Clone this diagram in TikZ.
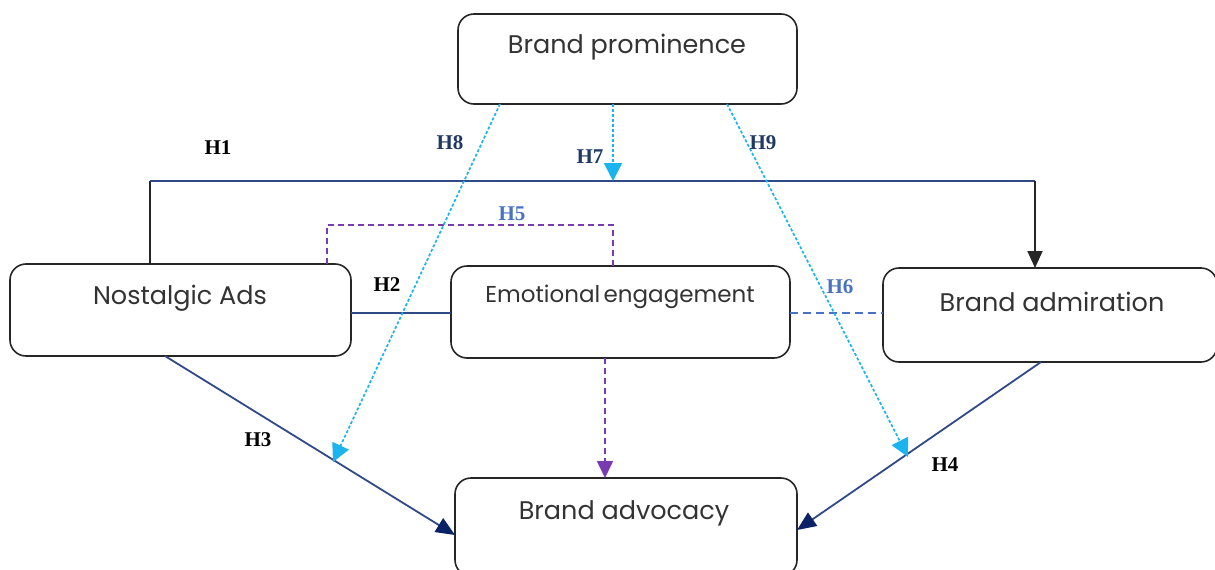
\documentclass[tikz,border=0pt]{standalone}
\usepackage{fontspec}
\setmainfont{Liberation Serif}
\newfontfamily\boxfont{Poppins}
\usetikzlibrary{arrows.meta,calc}

\definecolor{navyline}{HTML}{2F4A86}
\definecolor{navytip}{HTML}{0C2266}
\definecolor{skyline}{HTML}{1CB4EE}
\definecolor{violet}{HTML}{7A3BB0}
\definecolor{midblue}{HTML}{4A72C4}
\definecolor{labnavy}{HTML}{1F3864}

\tikzset{
  stage/.style={draw=black!85, line width=1.6pt, rounded corners=16pt,
                inner sep=0pt, outer sep=0pt},
  stagetext/.style={font=\boxfont\fontsize{25.5}{30}\selectfont, text=black!80,
                    inner sep=0pt},
  hlabel/.style={font=\bfseries\fontsize{21}{24}\selectfont, inner sep=0pt},
  solidpath/.style={draw=navyline, line width=1.8pt},
  directpath/.style={solidpath,
    -{Triangle[length=19pt,width=16pt,fill=navytip,color=navytip]}},
  moderator/.style={draw=skyline, line width=1.7pt, dash pattern=on 3pt off 2pt,
                    -{Triangle[length=18pt,width=18pt,fill=skyline,color=skyline]}},
  mediator/.style={draw=violet, line width=1.6pt, dash pattern=on 6pt off 4pt},
  linkdash/.style={draw=midblue, line width=1.6pt, dash pattern=on 8pt off 5pt},
}

\begin{document}
\begin{tikzpicture}[x=1pt, y=-1pt]
  \useasboundingbox (0,0) rectangle (1215,570);

  % construct boxes
  \node[stage, minimum width=339pt, minimum height=90pt] (bp)   at (627.5,59)  {};
  \node[stage, minimum width=341pt, minimum height=92pt] (na)   at (180.5,310) {};
  \node[stage, minimum width=339pt, minimum height=92pt] (ee)   at (620.5,312) {};
  \node[stage, minimum width=334pt, minimum height=94pt] (bad)  at (1050,315)  {};
  \node[stage, minimum width=342pt, minimum height=98pt] (badv) at (626,527)   {};

  % construct names
  \node[stagetext] (bpt)   at (627,47)  {Brand prominence};
  \node[stagetext] (nat)   at (180,298) {Nostalgic Ads};
  \node[stagetext, font=\boxfont\fontsize{23}{27}\selectfont] (eet) at (620,297)
    {Emotional\kern0.15em engagement};
  \node[stagetext] (badt)  at (1052,302) {Brand admiration};
  \node[stagetext] (badvt) at (624,513) {Brand advocacy};

  % H1: nostalgic ads -> brand admiration
  \coordinate (h1a) at (150,181);
  \coordinate (h1b) at (1035,181);
  \draw[black!85, line width=1.8pt] ($(na.north west)+(140,0)$) -- (h1a);
  \draw[solidpath] (h1a) -- (h1b);
  \draw[black!85, line width=1.8pt, -{Triangle[length=17pt,width=15pt]}]
    (h1b) -- ($(bad.north)+(-15,0)$);

  % H2: nostalgic ads -- emotional engagement
  \draw[solidpath] ($(na.east)+(0,3)$) coordinate (h2s) -- (h2s -| ee.west);

  % H3 and H4: direct paths to brand advocacy
  \draw[directpath] ($(na.south west)+(155,0)$) -- ($(badv.west)+(0,8)$);
  \draw[directpath] ($(bad.south west)+(158,0)$) -- ($(badv.east)+(0,3)$);

  % H5: mediation through emotional engagement
  \draw[mediator] ($(na.north west)+(317,0)$) -- ++(0,-39) -| ($(ee.north)+(-7.5,0)$);
  \draw[mediator, -{Triangle[length=17pt,width=16pt,fill=violet,color=violet]}]
    ($(ee.south)+(-15.5,0)$) coordinate (ees) -- (ees |- badv.north);

  % H6: emotional engagement -- brand admiration
  \draw[linkdash] ($(ee.east)+(0,1)$) coordinate (h6s) -- (h6s -| bad.west);

  % H7, H8, H9: moderation by brand prominence
  \coordinate (h8end) at (333,462);
  \coordinate (h9end) at (908,457);
  \draw[moderator] ($(bp.south west)+(155,0)$) coordinate (h7s) -- (h7s |- h1a);
  \draw[moderator] ($(bp.south west)+(42,0)$) -- (h8end);
  \draw[moderator] ($(bp.south west)+(269,0)$) -- (h9end);

  % hypothesis labels
  \node[hlabel] (l1) at (218,148) {H1};
  \node[hlabel] (l2) at (387,285) {H2};
  \node[hlabel] (l3) at (258,440) {H3};
  \node[hlabel] (l4) at (945,465) {H4};
  \node[hlabel, text=midblue] (l5) at (512,214) {H5};
  \node[hlabel, text=midblue] (l6) at (840,287) {H6};
  \node[hlabel, text=labnavy] (l7) at (590,157) {H7};
  \node[hlabel, text=labnavy] (l8) at (450,143) {H8};
  \node[hlabel, text=labnavy] (l9) at (763,143) {H9};
\end{tikzpicture}
\end{document}
